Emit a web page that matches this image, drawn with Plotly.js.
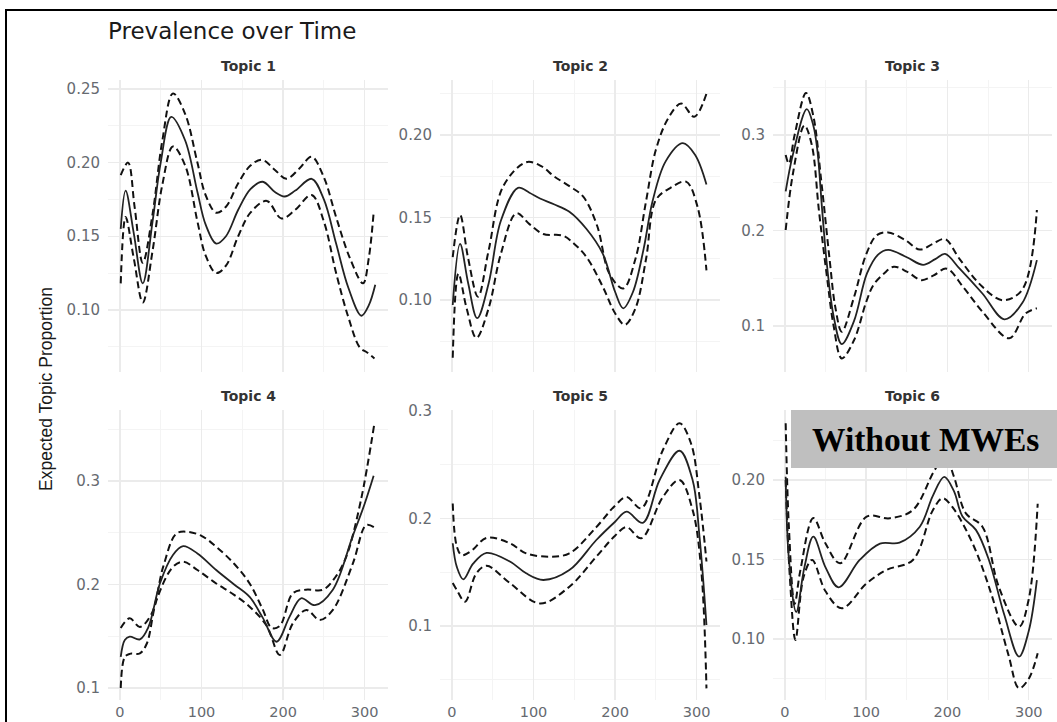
<!DOCTYPE html>
<html>
<head>
<meta charset="utf-8">
<script src="https://cdn.plot.ly/plotly-3.0.1.min.js"></script>
<style>html,body{margin:0;padding:0;background:#fff;}#chart{width:1057px;height:722px;}</style>
</head>
<body>
<div id="chart"></div>
<script>
// ---- data ----
const topicNames = ["Topic 1", "Topic 2", "Topic 3", "Topic 4", "Topic 5", "Topic 6"];
const chartTitle = "Prevalence over Time";
const yAxisTitle = "Expected Topic Proportion";
const labelText = "Without MWEs";
const xTicks = [0, 100, 200, 300];

// Topic 1
const t1MeanX = [1, 7, 17, 28, 40, 50, 63, 80, 95, 105, 118, 130, 145, 160, 175, 190, 202, 215, 235, 250, 265, 280, 296, 305, 313];
const t1Mean  = [0.155, 0.181, 0.152, 0.118, 0.160, 0.200, 0.231, 0.215, 0.180, 0.158, 0.145, 0.150, 0.168, 0.182, 0.187, 0.180, 0.177, 0.181, 0.189, 0.175, 0.145, 0.115, 0.096, 0.103, 0.117];
const t1UpX   = [1, 10, 18, 28, 40, 52, 65, 80, 95, 105, 118, 130, 145, 160, 174, 190, 204, 220, 235, 250, 265, 282, 298, 305, 311];
const t1Up    = [0.1915, 0.200, 0.170, 0.132, 0.165, 0.215, 0.247, 0.233, 0.200, 0.178, 0.166, 0.170, 0.186, 0.198, 0.202, 0.195, 0.189, 0.196, 0.204, 0.190, 0.163, 0.135, 0.118, 0.135, 0.166];
const t1LoX   = [1, 7, 17, 28, 40, 52, 65, 80, 95, 105, 118, 130, 145, 160, 180, 198, 215, 235, 250, 265, 280, 294, 303, 312];
const t1Lo    = [0.118, 0.163, 0.135, 0.105, 0.140, 0.185, 0.211, 0.198, 0.160, 0.137, 0.125, 0.130, 0.150, 0.166, 0.174, 0.162, 0.168, 0.178, 0.160, 0.125, 0.095, 0.0745, 0.071, 0.067];

// Topic 2
const t2MeanX = [1, 10, 20, 31, 45, 60, 81, 95, 108, 125, 144, 165, 185, 200, 210, 222, 235, 246, 262, 283, 298, 312];
const t2Mean  = [0.097, 0.134, 0.110, 0.089, 0.110, 0.148, 0.168, 0.165, 0.1615, 0.158, 0.1535, 0.143, 0.128, 0.105, 0.095, 0.105, 0.131, 0.160, 0.184, 0.195, 0.188, 0.170];
const t2UpX   = [1, 10, 20, 32, 45, 63, 91, 110, 125, 144, 161, 178, 193, 210, 225, 238, 250, 265, 281, 297, 312];
const t2Up    = [0.126, 0.1515, 0.125, 0.102, 0.130, 0.169, 0.1835, 0.181, 0.175, 0.169, 0.1626, 0.145, 0.116, 0.107, 0.125, 0.160, 0.191, 0.210, 0.219, 0.211, 0.225];
const t2LoX   = [1, 8, 18, 30, 45, 60, 79, 95, 112, 136, 150, 165, 185, 200, 212, 225, 238, 250, 268, 287, 301, 312];
const t2Lo    = [0.065, 0.116, 0.095, 0.077, 0.095, 0.128, 0.1526, 0.146, 0.140, 0.139, 0.134, 0.126, 0.108, 0.092, 0.085, 0.095, 0.125, 0.1606, 0.168, 0.1717, 0.1566, 0.118];

// Topic 3
const t3MeanX = [1, 10, 27, 35, 40, 46, 52, 60, 70, 85, 101, 115, 127, 150, 170, 185, 197, 215, 243, 270, 292, 310];
const t3Mean  = [0.241, 0.280, 0.327, 0.310, 0.284, 0.220, 0.162, 0.110, 0.081, 0.105, 0.155, 0.175, 0.1796, 0.172, 0.164, 0.170, 0.1754, 0.160, 0.134, 0.107, 0.124, 0.169];
const t3UpX   = [1, 5, 12, 26, 35, 45, 55, 62, 70, 85, 100, 113, 127, 148, 166, 182, 197, 215, 243, 268, 292, 310];
const t3Up    = [0.279, 0.270, 0.300, 0.344, 0.320, 0.250, 0.170, 0.120, 0.094, 0.130, 0.175, 0.195, 0.198, 0.190, 0.180, 0.186, 0.191, 0.170, 0.141, 0.127, 0.138, 0.2215];
const t3LoX   = [1, 10, 24, 33, 42, 52, 60, 70, 85, 100, 109, 122, 134, 150, 168, 183, 199, 220, 243, 276, 296, 310];
const t3Lo    = [0.2005, 0.260, 0.310, 0.290, 0.220, 0.150, 0.100, 0.066, 0.085, 0.125, 0.143, 0.155, 0.162, 0.157, 0.148, 0.153, 0.160, 0.140, 0.115, 0.0871, 0.113, 0.1185];

// Topic 4
const t4MeanX = [1, 6, 12, 24.5, 35, 49, 65, 77.5, 95, 118, 140, 159, 175, 192, 208, 222, 239, 261, 285, 300, 311];
const t4Mean  = [0.130, 0.1464, 0.1496, 0.147, 0.159, 0.201, 0.2285, 0.237, 0.230, 0.214, 0.200, 0.188, 0.168, 0.1447, 0.169, 0.1867, 0.180, 0.195, 0.246, 0.278, 0.305];
const t4UpX   = [1, 12, 24.5, 39, 53, 69, 82, 100, 118, 140, 159, 175, 186, 196, 212, 228, 249, 264, 277.5, 295, 312];
const t4Up    = [0.158, 0.1673, 0.159, 0.172, 0.217, 0.249, 0.251, 0.247, 0.2365, 0.220, 0.201, 0.176, 0.158, 0.160, 0.1915, 0.195, 0.195, 0.207, 0.227, 0.280, 0.356];
const t4LoX   = [1, 6, 12, 24.5, 33, 45, 65, 77.5, 95, 118, 140, 159, 180, 196, 212, 228.5, 245, 261, 285.6, 302, 312];
const t4Lo    = [0.100, 0.130, 0.133, 0.1335, 0.143, 0.185, 0.217, 0.222, 0.214, 0.201, 0.190, 0.1786, 0.160, 0.132, 0.1625, 0.1754, 0.1657, 0.1754, 0.2205, 0.2575, 0.255];

// Topic 5
const t5MeanX = [1, 6, 14, 26, 42.5, 71, 91, 112, 144, 177, 200, 214, 234, 254.6, 279, 295, 303.5, 312];
const t5Mean  = [0.177, 0.155, 0.1434, 0.158, 0.168, 0.160, 0.149, 0.1428, 0.152, 0.180, 0.197, 0.2063, 0.196, 0.2358, 0.263, 0.2358, 0.183, 0.101];
const t5UpX   = [1, 6, 12, 24, 42.5, 71, 91, 120, 144, 177, 200, 214, 232, 258.6, 279, 293, 303.5, 312];
const t5Up    = [0.214, 0.174, 0.166, 0.170, 0.182, 0.177, 0.1676, 0.1645, 0.1676, 0.192, 0.212, 0.220, 0.2095, 0.2637, 0.2885, 0.270, 0.220, 0.160];
const t5LoX   = [1, 6, 16, 30, 42.5, 71, 108, 144, 177, 200, 214, 232, 258.6, 279, 295, 305.6, 312];
const t5Lo    = [0.140, 0.1335, 0.1226, 0.149, 0.156, 0.140, 0.121, 0.1366, 0.1645, 0.184, 0.192, 0.1816, 0.220, 0.2358, 0.208, 0.152, 0.042];

// Topic 6
const t6MeanX = [1, 5, 14, 24, 35, 50, 66, 92, 117, 141, 166, 182, 196, 208, 218.5, 235, 251, 270, 288, 300, 310];
const t6Mean  = [0.202, 0.150, 0.117, 0.145, 0.1643, 0.145, 0.1325, 0.1497, 0.160, 0.1606, 0.1706, 0.190, 0.202, 0.193, 0.177, 0.1686, 0.1497, 0.115, 0.0889, 0.105, 0.137];
const t6UpX   = [1, 5, 12, 19, 35, 50, 68, 100.6, 129, 157.5, 184, 197, 208, 222.7, 243, 263, 288, 300, 311];
const t6Up    = [0.2357, 0.170, 0.122, 0.143, 0.176, 0.160, 0.1476, 0.1769, 0.1759, 0.1811, 0.206, 0.215, 0.202, 0.179, 0.1706, 0.133, 0.1077, 0.125, 0.185];
const t6LoX   = [1, 6, 13, 23, 33.5, 50, 70, 100.6, 125, 157.5, 182, 194, 206, 231, 255, 275, 288, 300, 311];
const t6Lo    = [0.200, 0.140, 0.0994, 0.139, 0.1497, 0.130, 0.1193, 0.135, 0.1434, 0.1497, 0.181, 0.1885, 0.183, 0.160, 0.1266, 0.090, 0.069, 0.075, 0.091];

const series = [
  [t1MeanX, t1Mean, t1UpX, t1Up, t1LoX, t1Lo],
  [t2MeanX, t2Mean, t2UpX, t2Up, t2LoX, t2Lo],
  [t3MeanX, t3Mean, t3UpX, t3Up, t3LoX, t3Lo],
  [t4MeanX, t4Mean, t4UpX, t4Up, t4LoX, t4Lo],
  [t5MeanX, t5Mean, t5UpX, t5Up, t5LoX, t5Lo],
  [t6MeanX, t6Mean, t6UpX, t6Up, t6LoX, t6Lo]
];

// ---- layout geometry (pixels) ----
const W = 1057, H = 722;
const colsPx = [[108, 388], [440, 720], [773, 1052]];
const rowsPx = [[80, 372], [410, 700]];
const yRanges = [[0.0578, 0.2561], [0.0564, 0.2333], [0.0518, 0.3576], [0.0884, 0.3686], [0.0312, 0.3009], [0.0616, 0.244]];
const yDticks = [0.05, 0.05, 0.1, 0.1, 0.1, 0.05];
const yFormats = [".2f", ".2f", ".1f", ".1f", ".1f", ".2f"];
const xRange = [-14.6, 328.6];

const tickFont = {family: "DejaVu Sans", size: 15, color: "#666a70"};
const xTickFont = {family: "DejaVu Sans", size: 14.5, color: "#666a70"};
const traces = [];
const layout = {
  width: W, height: H,
  margin: {l: 0, r: 0, t: 0, b: 0},
  paper_bgcolor: "#ffffff", plot_bgcolor: "#ffffff",
  showlegend: false,
  annotations: [], shapes: []
};

for (let i = 0; i < 6; i++) {
  const r = Math.floor(i / 3), c = i % 3;
  const sfx = i === 0 ? "" : String(i + 1);
  const xa = "x" + sfx, ya = "y" + sfx;
  const s = series[i];
  traces.push({x: s[2], y: s[3], xaxis: xa, yaxis: ya, mode: "lines", hoverinfo: "skip",
    line: {color: "#111", width: 2, dash: "7px,4px", shape: "spline", smoothing: 1}});
  traces.push({x: s[4], y: s[5], xaxis: xa, yaxis: ya, mode: "lines", hoverinfo: "skip",
    line: {color: "#111", width: 2, dash: "7px,4px", shape: "spline", smoothing: 1}});
  traces.push({x: s[0], y: s[1], xaxis: xa, yaxis: ya, mode: "lines", hoverinfo: "skip",
    line: {color: "#222", width: 1.8, shape: "spline", smoothing: 1}});

  const xd = [colsPx[c][0] / W, colsPx[c][1] / W];
  const yd = [1 - rowsPx[r][1] / H, 1 - rowsPx[r][0] / H];
  layout["xaxis" + sfx] = {
    domain: xd, range: xRange, anchor: ya,
    tickmode: "array", tickvals: xTicks, ticktext: xTicks.map(String),
    showticklabels: r === 1, tickfont: xTickFont, ticks: "", ticklabelstandoff: 1,
    showgrid: true, gridcolor: "#ebebeb", gridwidth: 1.4,
    minor: {dtick: 50, tick0: 0, showgrid: true, gridcolor: "#f4f4f4", gridwidth: 1, ticks: ""},
    zeroline: false, showline: false, fixedrange: true
  };
  layout["yaxis" + sfx] = {
    domain: yd, range: yRanges[i], anchor: xa,
    dtick: yDticks[i], tick0: 0, tickformat: yFormats[i],
    tickfont: tickFont, ticks: "", ticklabelstandoff: 7,
    showgrid: true, gridcolor: "#ebebeb", gridwidth: 1.4,
    minor: {dtick: yDticks[i] / 2, tick0: 0, showgrid: true, gridcolor: "#f4f4f4", gridwidth: 1, ticks: ""},
    zeroline: false, showline: false, fixedrange: true
  };
  layout.annotations.push({
    text: "<b>" + topicNames[i] + "</b>", xref: "paper", yref: "paper",
    x: (colsPx[c][0] + colsPx[c][1]) / 2 / W, y: 1 - (rowsPx[r][0] - 14) / H,
    xanchor: "center", yanchor: "middle", showarrow: false,
    font: {family: "DejaVu Sans", size: 14, color: "#333333"}
  });
}

// Title
layout.annotations.push({
  text: chartTitle, xref: "paper", yref: "paper", x: 106 / W, y: 1 - 31 / H,
  xanchor: "left", yanchor: "middle", showarrow: false,
  font: {family: "DejaVu Sans", size: 23, color: "#1a1a1a"}
});
// Y axis title
layout.annotations.push({
  text: yAxisTitle, xref: "paper", yref: "paper", x: 46 / W, y: 1 - 389 / H,
  xanchor: "center", yanchor: "middle", textangle: -90, showarrow: false,
  font: {family: "Liberation Sans", size: 17.5, color: "#1a1a1a"}
});
// Label box
layout.shapes.push({type: "rect", xref: "paper", yref: "paper", layer: "above",
  x0: 791 / W, x1: 1057 / W, y0: 1 - 468 / H, y1: 1 - 410 / H,
  fillcolor: "#bfbfbf", line: {width: 0}});
layout.annotations.push({
  text: "<b>" + labelText + "</b>", xref: "paper", yref: "paper", x: 925 / W, y: 1 - 440 / H,
  xanchor: "center", yanchor: "middle", showarrow: false,
  font: {family: "Liberation Serif", size: 33.5, color: "#000000"}
});
// Frame lines (left and top)
layout.shapes.push({type: "line", xref: "paper", yref: "paper", layer: "above",
  x0: 6 / W, x1: 6 / W, y0: -0.05, y1: 1 - 10 / H, line: {color: "#000", width: 2}});
layout.shapes.push({type: "line", xref: "paper", yref: "paper", layer: "above",
  x0: 5 / W, x1: 1.02, y0: 1 - 10 / H, y1: 1 - 10 / H, line: {color: "#000", width: 2}});

Plotly.newPlot("chart", traces, layout, {staticPlot: true, displayModeBar: false});
</script>
</body>
</html>
